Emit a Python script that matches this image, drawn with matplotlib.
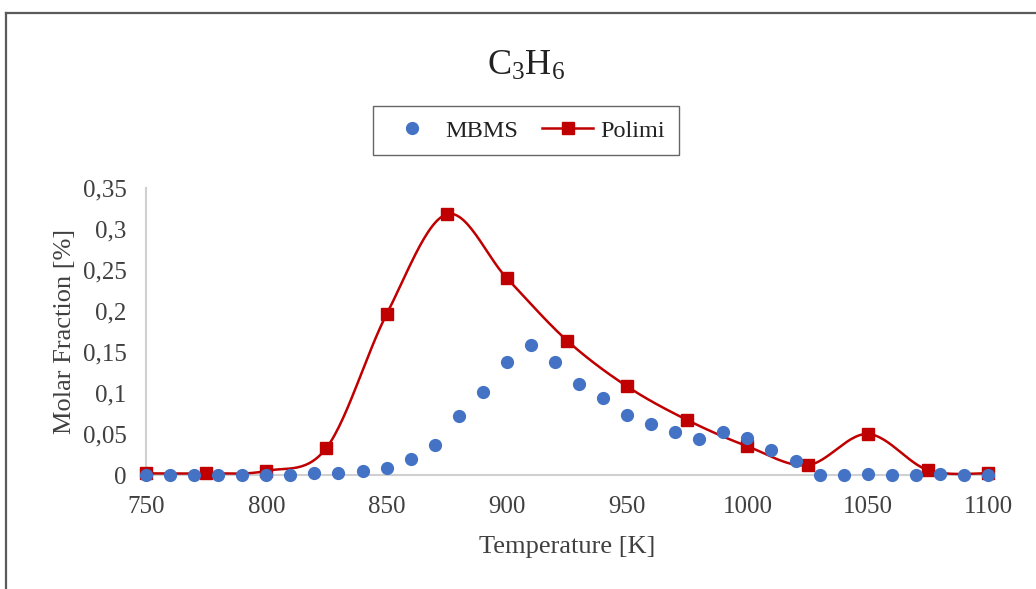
import numpy as np
import matplotlib
matplotlib.use("Agg")
import matplotlib.pyplot as plt
from matplotlib.lines import Line2D

# ---- data ----
mbms_T = [750, 760, 770, 780, 790, 800, 810, 820, 830, 840, 850, 860, 870, 880,
          890, 900, 910, 920, 930, 940, 950, 960, 970, 980, 990, 1000, 1010, 1020,
          1030, 1040, 1050, 1060, 1070, 1080, 1090, 1100]
mbms_y = [0.0, 0.0, 0.0, 0.0, 0.0, 0.0, 0.0, 0.002, 0.003, 0.005, 0.008, 0.019,
          0.037, 0.072, 0.101, 0.138, 0.159, 0.138, 0.111, 0.094, 0.073, 0.062,
          0.053, 0.044, 0.053, 0.045, 0.030, 0.017, 0.0, 0.0, 0.001, 0.0, 0.0,
          0.001, 0.0, 0.0005]
polimi_T = [750, 775, 800, 825, 850, 875, 900, 925, 950, 975, 1000, 1025, 1050, 1075, 1100]
polimi_y = [0.002, 0.002, 0.005, 0.033, 0.196, 0.318, 0.240, 0.164, 0.108, 0.067,
            0.035, 0.012, 0.050, 0.006, 0.002]

x_ticks = [750, 800, 850, 900, 950, 1000, 1050, 1100]
y_ticks = [0, 0.05, 0.1, 0.15, 0.2, 0.25, 0.3, 0.35]
y_tick_labels = ["0", "0,05", "0,1", "0,15", "0,2", "0,25", "0,3", "0,35"]

BLUE = "#4472C4"
RED = "#C00000"
FONT = "Liberation Serif"

plt.rcParams["mathtext.fontset"] = "custom"
plt.rcParams["mathtext.rm"] = FONT
plt.rcParams["mathtext.it"] = FONT + ":italic"
plt.rcParams["mathtext.default"] = "rm"


def smooth(xs, ys, n=30):
    """Excel-like smoothed line (Catmull-Rom cubic Bezier)."""
    xs = np.asarray(xs, float)
    ys = np.asarray(ys, float)
    P = np.column_stack([xs, ys])
    out = []
    m = len(P)
    for i in range(m - 1):
        p0 = P[i - 1] if i > 0 else P[i]
        p1 = P[i]
        p2 = P[i + 1]
        p3 = P[i + 2] if i + 2 < m else P[i + 1]
        c1 = p1 + (p2 - p0) / 6.0
        c2 = p2 - (p3 - p1) / 6.0
        t = np.linspace(0, 1, n)[:, None]
        seg = ((1 - t) ** 3) * p1 + 3 * ((1 - t) ** 2) * t * c1 + 3 * (1 - t) * t ** 2 * c2 + t ** 3 * p2
        out.append(seg if i == 0 else seg[1:])
    arr = np.vstack(out)
    return arr[:, 0], arr[:, 1]


fig = plt.figure(figsize=(10.36, 5.89), dpi=100)
ax = fig.add_axes([146 / 1036, 1 - 475 / 589, (988 - 146) / 1036, (475 - 188) / 589])

sx, sy = smooth(polimi_T, polimi_y)
ax.plot(sx, sy, color=RED, lw=1.8, zorder=3, clip_on=False)
ax.plot(polimi_T, polimi_y, linestyle="none", marker="s", ms=8.5, color=RED,
        zorder=4, clip_on=False)
ax.plot(mbms_T, mbms_y, linestyle="none", marker="o", ms=8.5, color=BLUE,
        zorder=5, clip_on=False)

ax.set_xlim(750, 1100)
ax.set_ylim(0, 0.35)
ax.set_xticks(x_ticks)
ax.set_xticklabels([str(v) for v in x_ticks], fontfamily=FONT, fontsize=18, color="#404040")
ax.set_yticks(y_ticks)
ax.set_yticklabels(y_tick_labels, fontfamily=FONT, fontsize=18, color="#404040")
ax.tick_params(axis="both", length=0)
ax.tick_params(axis="x", pad=15)
ax.tick_params(axis="y", pad=14)

for s in ["top", "right"]:
    ax.spines[s].set_visible(False)
for s in ["left", "bottom"]:
    ax.spines[s].set_color("#d0d0d0")
    ax.spines[s].set_linewidth(1.5)

ax.set_xlabel("Temperature [K]", fontfamily=FONT, fontsize=19, color="#404040", labelpad=13)
ax.set_ylabel("Molar Fraction [%]", fontfamily=FONT, fontsize=19, color="#404040", labelpad=5)

fig.text(526 / 1036, 1 - 66 / 589, r"C$_3$H$_6$", ha="center", va="center",
         fontsize=26, fontfamily=FONT, color="#222222")

handles = [
    Line2D([], [], linestyle="none", marker="o", ms=8.5, color=BLUE),
    Line2D([], [], color=RED, lw=1.8, marker="s", ms=8.5),
]
leg = fig.legend(handles, ["MBMS", "Polimi"], loc="center",
                 bbox_to_anchor=(526 / 1036, 1 - 130.5 / 589), ncol=2,
                 frameon=True, fancybox=False, handlelength=2.1, columnspacing=1.0,
                 handletextpad=0.3, borderpad=0.55, borderaxespad=0,
                 prop={"family": FONT, "size": 17.5})
leg.get_frame().set_edgecolor("#404040")
leg.get_frame().set_linewidth(1.0)
for t in leg.get_texts():
    t.set_color("#222222")

# outer chart border (partially visible)
fig.add_artist(Line2D([6 / 1036, 1.0], [1 - 13 / 589, 1 - 13 / 589],
                      transform=fig.transFigure, color="#5a5a5a", lw=1.6))
fig.add_artist(Line2D([6 / 1036, 6 / 1036], [0, 1 - 13 / 589],
                      transform=fig.transFigure, color="#5a5a5a", lw=1.6))

fig.savefig("out.png", dpi=100)
